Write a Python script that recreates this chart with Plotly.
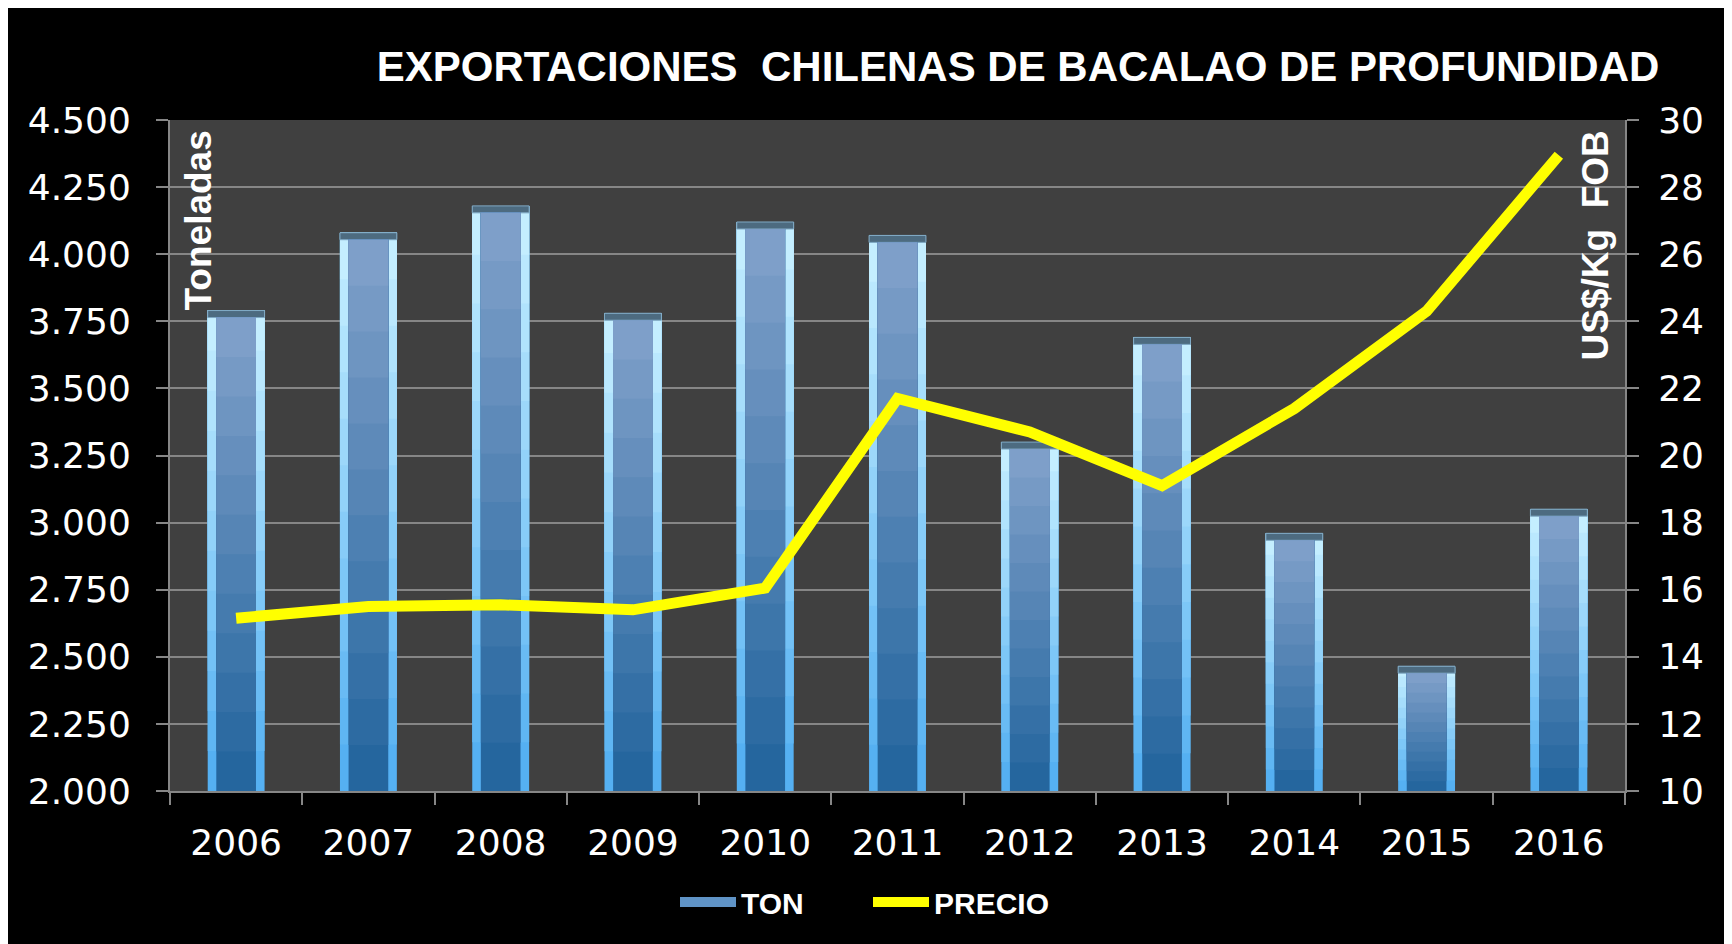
import plotly.graph_objects as go

years = ["2006", "2007", "2008", "2009", "2010", "2011", "2012", "2013", "2014", "2015", "2016"]
ton = [3790, 4080, 4180, 3780, 4120, 4070, 3300, 3690, 2960, 2465, 3050]
precio = [15.15, 15.5, 15.55, 15.4, 16.05, 21.7, 20.7, 19.1, 21.4, 24.3, 28.95]

# page has an 8px body margin: figure coordinates = screen - 8
W, H = 1724, 936
L, R, T, B = 162, 1617, 112, 783
PW, PH = R - L, B - T
Y0 = 2000


def px(x):
    return (x - L) / PW


def py(y):
    return (B - y) / PH


def mix(c1, c2, t):
    a = [int(c1[i:i + 2], 16) for i in (1, 3, 5)]
    b = [int(c2[i:i + 2], 16) for i in (1, 3, 5)]
    return "#" + "".join(f"{round(a[i] + (b[i] - a[i]) * t):02x}" for i in range(3))


tick_font = dict(family="DejaVu Sans", size=36, color="white")
bold_font = "Liberation Sans, Arial, sans-serif"
grid_col = "#868686"

fig = go.Figure()

N = 12
CAP = 26  # bevel height at the top of the bars (axis units)
edge_lo, edge_hi = "#55b0f2", "#c4eeff"
face_lo, face_hi = "#25669e", "#7e9fc9"

# outer light edges (vertical gradient, overlapping layers to avoid seams)
for k in range(N):
    fig.add_trace(go.Bar(
        x=years,
        y=[(v - Y0) * (N - k) / N for v in ton],
        base=[Y0 + (v - Y0) * k / N for v in ton],
        width=0.43, marker=dict(color=mix(edge_lo, edge_hi, k / (N - 1)), line=dict(width=0)),
        showlegend=False, hoverinfo="skip", legendgroup="ton",
    ))
# top bevel
fig.add_trace(go.Bar(
    x=years, y=[CAP] * len(ton), base=[v - CAP for v in ton], width=0.43,
    marker=dict(color="#4d6b80", line=dict(color="#7fa9c4", width=1)),
    showlegend=False, hoverinfo="skip", legendgroup="ton",
))
# inner face (vertical gradient)
for k in range(N):
    fig.add_trace(go.Bar(
        x=years,
        y=[(v - CAP - Y0) * (N - k) / N for v in ton],
        base=[Y0 + (v - CAP - Y0) * k / N for v in ton],
        width=0.30, marker=dict(color=mix(face_lo, face_hi, k / (N - 1)), line=dict(width=0)),
        showlegend=False, hoverinfo="skip", legendgroup="ton",
    ))
# legend entry for the bars
fig.add_trace(go.Scatter(
    x=[None], y=[None], name="TON", mode="lines",
    line=dict(color="#5f93c6", width=17), legendgroup="ton",
))
fig.add_trace(go.Scatter(
    x=years, y=precio, name="PRECIO", mode="lines",
    line=dict(color="#ffff00", width=11),
    yaxis="y2",
))

shapes = [
    dict(type="rect", xref="paper", yref="paper", x0=px(W - 6), x1=px(W + 10), y0=py(H + 10), y1=py(-10),
         fillcolor="#d6eaf2", line=dict(width=0), layer="above"),
]

annotations = [
    dict(text="<b>Toneladas</b>", textangle=-90, xref="paper", yref="paper",
         x=px(168), y=py(121), xanchor="left", yanchor="top", showarrow=False,
         font=dict(family=bold_font, size=37, color="white")),
    dict(text="<b>US$/Kg  FOB</b>", textangle=-90, xref="paper", yref="paper",
         x=px(1610), y=py(121), xanchor="right", yanchor="top", showarrow=False,
         font=dict(family=bold_font, size=37, color="white")),
]

fig.update_layout(
    width=W, height=H,
    paper_bgcolor="black", plot_bgcolor="#404040",
    margin=dict(l=L, r=W - R, t=T, b=H - B, autoexpand=False),
    separators=",.",
    barmode="overlay",
    title=dict(text="<b>EXPORTACIONES&nbsp; CHILENAS DE BACALAO DE PROFUNDIDAD</b>",
               x=1010 / W, xref="container", xanchor="center",
               y=1 - 58 / H, yref="container", yanchor="middle",
               font=dict(family=bold_font, size=42, color="white")),
    xaxis=dict(type="category", showgrid=False, showline=True, linecolor=grid_col, linewidth=2,
               ticks="outside", tickson="boundaries", ticklen=12, tickcolor=grid_col, tickwidth=2,
               tickfont=tick_font, ticklabelstandoff=19),
    yaxis=dict(range=[2000, 4500], dtick=250, tick0=2000, tickformat=",d",
               showgrid=True, gridcolor=grid_col, gridwidth=2,
               showline=True, linecolor=grid_col, linewidth=2,
               ticks="outside", ticklen=12, tickcolor=grid_col, tickwidth=2,
               tickfont=tick_font, ticklabelstandoff=18, zeroline=False),
    yaxis2=dict(range=[10, 30], dtick=2, tick0=10, overlaying="y", side="right",
                showgrid=False, showline=True, linecolor=grid_col, linewidth=2,
                ticks="outside", ticklen=12, tickcolor=grid_col, tickwidth=2,
                tickfont=tick_font, ticklabelstandoff=12, zeroline=False),
    legend=dict(orientation="h", x=px(667), xanchor="left", y=py(894), yanchor="middle",
                font=dict(family=bold_font, size=30, color="white", weight="bold"),
                bgcolor="rgba(0,0,0,0)", itemwidth=56,
                entrywidth=122, entrywidthmode="pixels"),
    shapes=shapes,
    annotations=annotations,
)

fig.write_html("out.html")
